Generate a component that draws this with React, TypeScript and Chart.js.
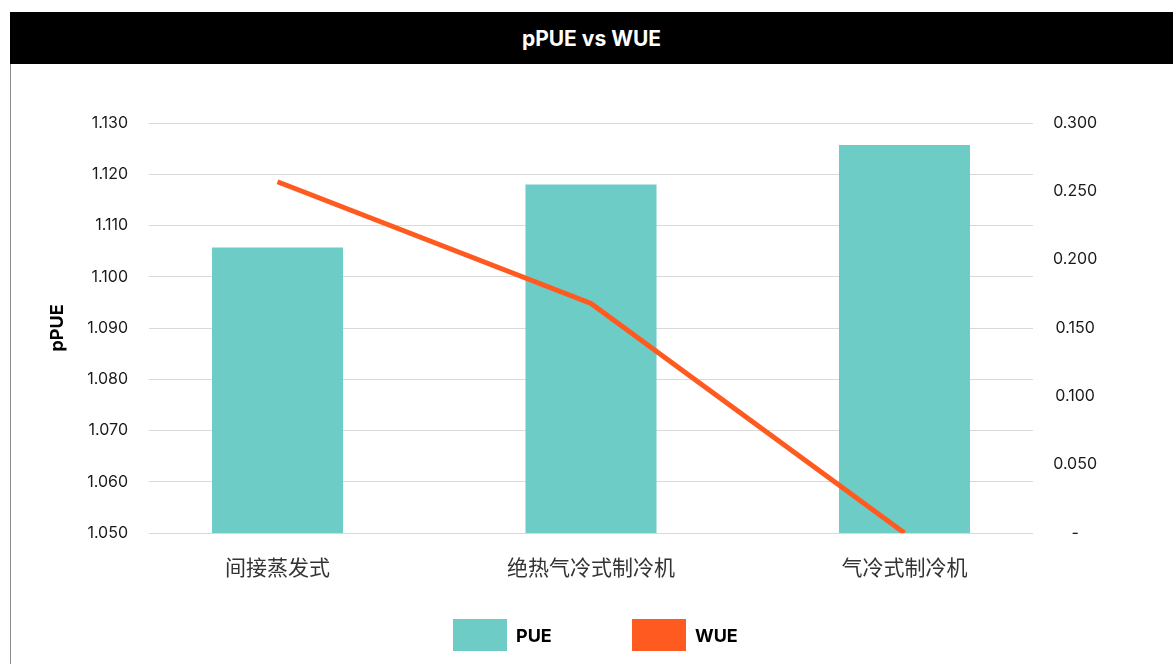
import React, { useEffect, useRef } from "react";
import { Chart, registerables } from "chart.js";

Chart.register(...registerables);

const chartTitle = "pPUE vs WUE";
const categories = ["间接蒸发式", "绝热气冷式制冷机", "气冷式制冷机"];
const pueValues = [1.1057, 1.118, 1.1257];
const wueValues = [0.257, 0.168, 0];
const seriesNames = ["PUE", "WUE"];
const seriesColors = ["#6ECCC6", "#FF5A1F"];
const leftAxisTitle = "pPUE";
const leftTickRange = [1.05, 1.13, 0.01];
const rightTickRange = [0, 0.3, 0.05];

const latinFont = "Inter, 'Noto Sans', 'Noto Sans CJK SC', sans-serif";
const cjkFont = "'Noto Sans CJK SC', 'Noto Sans', sans-serif";

export default function App() {
  const canvasRef = useRef<HTMLCanvasElement | null>(null);

  useEffect(() => {
    const canvas = canvasRef.current;
    if (!canvas) return;
    const chart = new Chart(canvas, {
      type: "bar",
      data: {
        datasets: [
          {
            type: "line",
            label: seriesNames[1],
            data: categories.map((_, i) => ({ x: i, y: wueValues[i] })),
            yAxisID: "y1",
            xAxisID: "x",
            borderColor: seriesColors[1],
            backgroundColor: seriesColors[1],
            borderWidth: 5,
            pointRadius: 0,
            tension: 0,
            order: 0,
          } as any,
          {
            type: "bar",
            label: seriesNames[0],
            data: categories.map((_, i) => ({ x: i, y: pueValues[i] })),
            yAxisID: "y",
            xAxisID: "x",
            backgroundColor: seriesColors[0],
            borderWidth: 0,
            categoryPercentage: 1,
            barPercentage: 0.418,
            order: 1,
          } as any,
        ],
      },
      options: {
        responsive: false,
        animation: false,
        layout: { padding: { left: 0, right: 0, top: 59, bottom: 0 } },
        plugins: {
          legend: { display: false },
          tooltip: { enabled: false },
        },
        scales: {
          x: {
            type: "linear",
            offset: false,
            min: -0.41,
            max: 2.41,
            afterBuildTicks: (axis: any) => {
              axis.ticks = categories.map((_, i) => ({ value: i }));
            },
            afterFit: (axis: any) => {
              axis.height = 131;
            },
            grid: { display: false, drawTicks: false, offset: false },
            border: { display: false },
            ticks: {
              autoSkip: false,
              maxRotation: 0,
              padding: 21,
              color: "#333333",
              font: { family: cjkFont, size: 21 },
              callback: (value: any) => categories[Math.round(Number(value))] ?? "",
            },
          },
          y: {
            type: "linear",
            position: "left",
            min: leftTickRange[0],
            max: leftTickRange[1],
            afterFit: (axis: any) => {
              axis.width = 137;
            },
            grid: { color: "#D9D9D9", lineWidth: 1, drawTicks: false },
            border: { display: false },
            title: {
              display: true,
              text: leftAxisTitle,
              color: "#000000",
              font: { family: latinFont, size: 18, weight: "bold" },
              padding: { top: 35, bottom: 0 },
            },
            ticks: {
              stepSize: leftTickRange[2],
              padding: 21,
              color: "#1A1A1A",
              font: { family: latinFont, size: 16 },
              callback: (value: any) => Number(value).toFixed(3),
            },
          },
          y1: {
            type: "linear",
            position: "right",
            min: rightTickRange[0],
            max: rightTickRange[1],
            afterFit: (axis: any) => {
              axis.width = 140;
            },
            grid: { display: false, drawTicks: false },
            border: { display: false },
            ticks: {
              stepSize: rightTickRange[2],
              padding: 20,
              crossAlign: "center",
              color: "#1A1A1A",
              font: { family: latinFont, size: 16 },
              callback: (value: any) =>
                Math.abs(Number(value)) < 1e-9 ? "-" : Number(value).toFixed(3),
            },
          },
        },
      } as any,
    });
    return () => chart.destroy();
  }, []);

  const legendBoxLeft = [453, 632];

  return (
    <div
      style={{
        position: "absolute",
        left: 0,
        top: 0,
        width: 1173,
        height: 664,
        overflow: "hidden",
        background: "#ffffff",
        fontFamily: latinFont,
      }}
    >
      <div
        style={{
          position: "absolute",
          left: 10,
          top: 12,
          width: 1163,
          height: 700,
          borderLeft: "1.5px solid #8C8C8C",
          boxSizing: "border-box",
        }}
      />
      <div
        style={{
          position: "absolute",
          left: 10,
          top: 12,
          width: 1163,
          height: 52,
          background: "#000000",
          color: "#ffffff",
          fontWeight: 700,
          fontSize: 21,
          display: "flex",
          alignItems: "center",
          justifyContent: "center",
        }}
      >
        {chartTitle}
      </div>
      <canvas
        ref={canvasRef}
        width={1161}
        height={600}
        style={{ position: "absolute", left: 12, top: 64, width: 1161, height: 600 }}
      />
      {seriesNames.map((name, i) => (
        <div
          key={name}
          style={{
            position: "absolute",
            left: legendBoxLeft[i],
            top: 619,
            height: 32,
            display: "flex",
            alignItems: "center",
          }}
        >
          <div style={{ width: 54, height: 32, background: seriesColors[i] }} />
          <div
            style={{
              marginLeft: 9,
              fontWeight: 700,
              fontSize: 18,
              color: "#000000",
            }}
          >
            {name}
          </div>
        </div>
      ))}
    </div>
  );
}
